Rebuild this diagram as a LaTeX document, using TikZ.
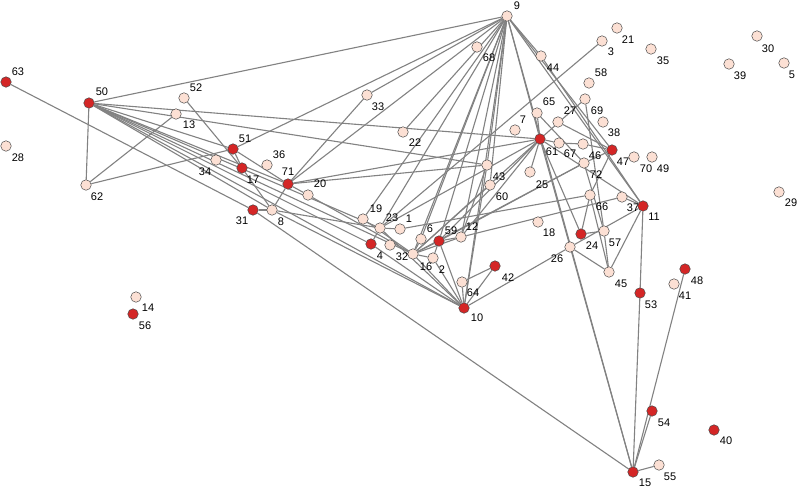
\documentclass[tikz,border=0pt]{standalone}
\usepackage{fontspec}
\setmainfont{Liberation Sans}
\usetikzlibrary{backgrounds}
\definecolor{lightn}{RGB}{252,224,212}
\definecolor{redn}{RGB}{212,38,38}
\definecolor{edgec}{RGB}{130,130,130}
\begin{document}
\begin{tikzpicture}[x=1pt,y=-1pt,
 nl/.style={circle,draw=black!70,line width=0.5pt,fill=lightn,minimum size=10.5pt,inner sep=0pt},
 nr/.style={nl,fill=redn},
 lbl/.style={font=\fontsize{11}{12}\selectfont,inner sep=0pt},
 ed/.style={draw=edgec,line width=1.1pt}]
\useasboundingbox (0,0) rectangle (799,491);
% light nodes: name/x/y/labelx/labely
\foreach \n/\x/\y/\lx/\ly in {1/400/229/409/219, 3/602/41/611/52, 5/784/63/792/75, 6/421/239/430/229,
 7/515/130/523/120, 8/272/210/281/222, 9/507/16/517/6, 12/461/237/472/227, 13/176/114/189/125,
 14/136/297/148/308, 16/433/258/426/267, 18/538/222/549/233, 19/363/219/376/209, 20/308/195/320/184,
 21/617/28/628/40, 22/403/132/415/143, 23/380/228/392/218, 25/530/172/542/185, 26/570/247/557/259,
 27/558/122/570/111, 28/6/146/18/158, 29/779/192/791/203, 30/757/36/768/49, 32/413/254/402/257,
 33/367/95/378/107, 34/216/160/205/172, 35/651/49/663/61, 36/267/165/279/155, 37/622/197/633/208,
 38/603/122/614/133, 39/729/64/740/76, 41/674/284/685/296, 43/487/165/499/177, 44/541/56/553/68,
 45/609/272/621/284, 46/583/144/595/156, 49/652/157/663/169, 52/184/98/196/88, 55/659/465/670/477,
 57/604/231/615/243, 58/589/83/601/73, 60/490/185/502/197, 62/86/185/97/197, 64/462/282/473/293,
 65/537/113/549/102, 66/590/195/602/207, 67/559/143/570/154, 68/477/47/489/58, 69/585/99/597/111,
 70/634/157/646/169, 72/584/163/596/175}
 {\node[nl] (n\n) at (\x,\y) {}; \node[lbl] (l\n) at (\lx,\ly) {\n};}
% red nodes
\foreach \n/\x/\y/\lx/\ly in {4/371/244/380/256, 10/464/308/477/318, 11/643/206/654/217, 15/633/472/645/483,
 17/242/168/253/180, 24/581/234/592/246, 31/253/210/242/221, 40/714/430/726/441, 42/495/266/508/278,
 47/612/150/623/162, 48/685/269/697/281, 50/89/103/102/92, 51/233/149/245/139, 53/640/293/651/305,
 54/652/411/664/423, 56/133/314/145/326, 59/439/241/451/231, 61/540/139/552/152, 63/6/82/18/72,
 71/288/184/288/172}
 {\node[nr] (n\n) at (\x,\y) {}; \node[lbl] (l\n) at (\lx,\ly) {\n};}
\node[nl] (n0) at (390,245) {};
\node[lbl] (l2) at (442,270) {2};
\begin{pgfonlayer}{background}
\fill[white] (0,0) rectangle (799,491);
\foreach \a/\b in {9/50,9/51,9/71,9/33,9/22,9/19,9/23,9/6,9/32,9/59,9/12,9/10,9/43,9/60,9/61,9/15,9/44,9/47,9/11,
 50/62,50/61,50/43,50/51,50/71,50/23,50/4,50/32,50/10,50/8,
 62/13,62/51,51/17,51/71,52/17,17/8,63/31,31/8,31/15,
 71/33,71/8,71/20,71/61,71/43,20/32,
 8/23,8/10,19/32,23/4,23/1,23/61,23/10,3/23,1/66,
 4/10,32/6,32/59,32/12,32/61,32/72,32/10,32/16,60/32,
 59/12,59/16,59/10,59/72,59/61,12/61,12/43,12/37,16/10,
 10/64,10/42,64/42,10/26,10/43,
 61/65,61/69,61/67,67/46,46/47,61/11,61/25,61/15,61/24,65/72,27/47,
 72/47,66/24,66/47,24/57,57/72,45/57,45/11,45/66,45/26,26/11,69/57,
 37/11,44/11,11/53,53/15,48/15,54/15,55/15}
 {\draw[ed] (n\a) -- (n\b);}
\end{pgfonlayer}
\end{tikzpicture}
\end{document}
